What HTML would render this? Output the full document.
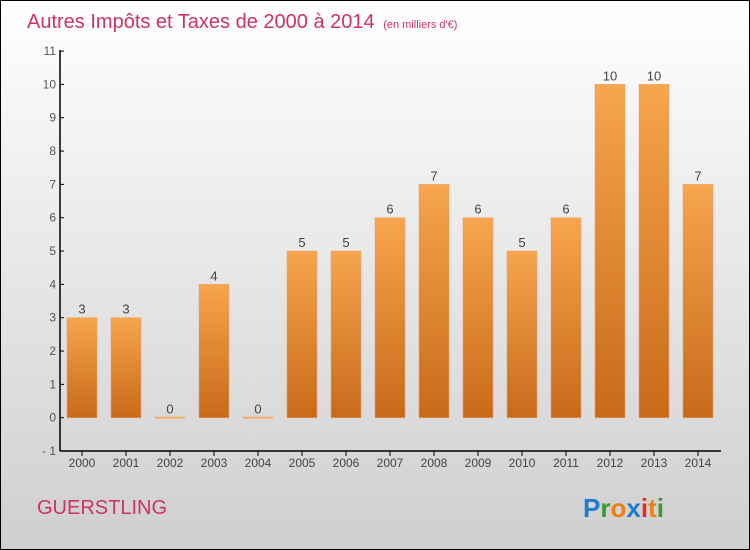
<!DOCTYPE html>
<html><head><meta charset="utf-8"><style>
body{margin:0}
#c{position:relative;width:748px;height:548px;border:1px solid #000;background:linear-gradient(#fff,#f0f0f0 30%,#cfcfcf);font-family:"Liberation Sans",sans-serif;overflow:hidden}
</style></head><body>
<div id="c">
<svg width="748" height="548" style="position:absolute;left:0;top:0">
<defs><linearGradient id="g" x1="0" y1="0" x2="0" y2="1"><stop offset="0" stop-color="#f7a54e"/><stop offset="1" stop-color="#c86a1a"/></linearGradient></defs>
<text x="26" y="27" font-size="20" fill="#cc3366">Autres Impôts et Taxes de 2000 à 2014 <tspan font-size="11" dx="3">(en milliers d'€)</tspan></text>
<g id="plot"></g>
<text x="36" y="513" font-size="20" fill="#cc3366">GUERSTLING</text>
<text x="582" y="516" font-size="26" font-weight="bold"><tspan fill="#1e7bd0">P</tspan><tspan fill="#3a9a3a">r</tspan><tspan fill="#f08010">o</tspan><tspan fill="#1e7bd0">x</tspan><tspan fill="#e03020">i</tspan><tspan fill="#f08010">t</tspan><tspan fill="#3a9a3a">i</tspan></text>
</svg>
</div>
<script>
const years=["2000","2001","2002","2003","2004","2005","2006","2007","2008","2009","2010","2011","2012","2013","2014"];
const values=[3,3,0,4,0,5,5,6,7,6,5,6,10,10,7];
const yTicks=[-1,0,1,2,3,4,5,6,7,8,9,10,11];
const NS="http://www.w3.org/2000/svg";
const g=document.getElementById('plot');
const y=v=>416.7-(v)*33.33;
const x=i=>81+44*i;
function mk(t,a,p){const e=document.createElementNS(NS,t);for(const k in a)e.setAttribute(k,a[k]);(p||g).appendChild(e);return e;}
let ax=mk('line',{x1:59,y1:49,x2:59,y2:450,stroke:'#000','stroke-width':1.5});


let bx=mk('line',{x1:59,y1:450,x2:720,y2:450,stroke:'#000','stroke-width':1.5});


yTicks.forEach(t=>{
 mk('line',{x1:59,y1:y(t),x2:63,y2:y(t),stroke:'#000'});
 let l=mk('text',{x:55,y:y(t)+4,'font-size':12,fill:'#555','text-anchor':'end'});
 l.textContent=t===-1?'- 1':t;
 
 
});
years.forEach((yr,i)=>{
 const cx=x(i),v=values[i];
 mk('line',{x1:cx,y1:450,x2:cx,y2:455,stroke:'#000'});
 let l=mk('text',{x:cx,y:466,'font-size':12,fill:'#444','text-anchor':'middle'});
 l.textContent=yr;
 
 
 const top=y(v),h=Math.max(y(0)-top,2);
 let b=mk('rect',{x:cx-15,y:v>0?top:y(0)-1,width:30,height:h,fill:v>0?'url(#g)':'#f5b070',stroke:v>0?'#e8a060':'none','stroke-width':0.5});
 
 
 let vl=mk('text',{x:cx,y:(v>0?top:y(0))-4,'font-size':13,fill:'#444','text-anchor':'middle'});
 vl.textContent=v;
 
 
});
</script>
</body></html>
